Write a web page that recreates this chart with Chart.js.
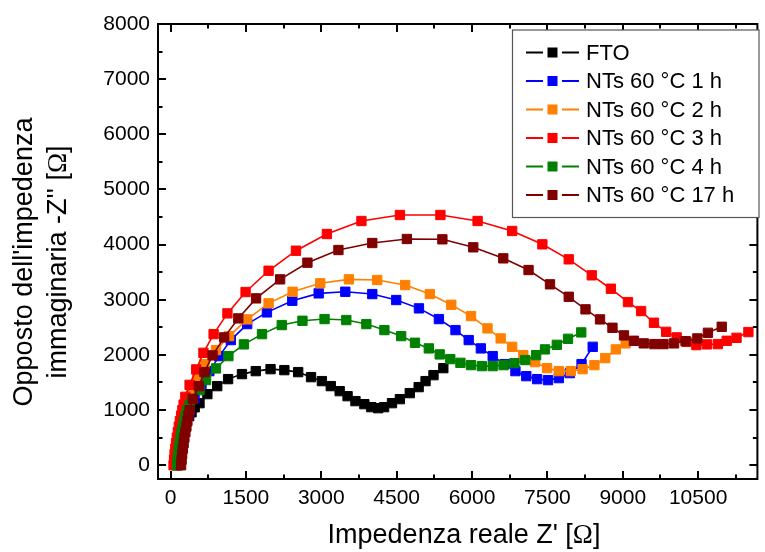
<!DOCTYPE html>
<html>
<head>
<meta charset="utf-8">
<script src="https://cdn.jsdelivr.net/npm/chart.js@4"></script>
<style>
  html, body { margin: 0; padding: 0; background: #fff; }
  #wrap { width: 765px; height: 552px; }
</style>
</head>
<body>
<div id="wrap"><canvas id="nyquist" width="765" height="552"></canvas></div>
<script>
// Nyquist data: Z' (real) and -Z'' (imaginary), ohm
const ftoRe = [150,160,175,190,210,230,255,285,320,370,418,480,576,733,929,1145,1421,1696,1990,2265,2540,2796,3012,3189,3366,3523,3680,3857,3995,4132,4250,4407,4564,4761,4938,5075,5233,5429];
const ftoIm = [0,100,200,300,400,500,600,700,800,890,960,1050,1125,1289,1434,1561,1652,1706,1742,1724,1688,1597,1525,1434,1343,1252,1162,1107,1053,1034,1053,1125,1198,1307,1416,1525,1633,1760];

const nt1Re = [120,130,145,160,180,200,225,255,290,335,379,477,615,772,969,1199,1525,1918,2423,2948,3478,4015,4492,4944,5341,5671,5934,6176,6412,6648,6864,7080,7296,7513,7729,7945,8180,8402];
const nt1Im = [0,100,200,300,400,500,600,700,800,900,962,1216,1470,1706,1978,2269,2559,2771,2982,3116,3145,3103,2995,2844,2650,2450,2269,2118,1978,1833,1706,1615,1561,1543,1579,1670,1833,2147];

const nt2Re = [110,120,130,145,160,180,200,225,250,280,315,360,413,530,674,904,1165,1525,1951,2429,2979,3549,4113,4669,5160,5587,5980,6308,6570,6799,7021,7257,7493,7729,7965,8201,8436,8652,8862,9058];
const nt2Im = [0,100,200,300,400,500,600,700,800,900,1000,1150,1300,1573,1833,2087,2341,2644,2935,3145,3298,3370,3358,3267,3103,2909,2704,2481,2299,2147,1996,1869,1760,1706,1706,1742,1815,1942,2100,2209];

const nt3Re = [60,70,80,95,110,125,145,165,185,210,235,260,295,379,511,654,857,1132,1493,1951,2496,3111,3799,4565,5371,6111,6799,7400,7925,8383,8764,9104,9365,9621,9864,10073,10269,10466,10676,10892,11069,11265,11501];
const nt3Im = [0,100,200,300,400,500,600,700,800,900,1000,1100,1240,1457,1737,2038,2377,2753,3140,3526,3889,4192,4428,4537,4537,4428,4247,4005,3733,3443,3200,2958,2795,2583,2419,2318,2238,2178,2191,2196,2256,2310,2414];

const nt4Re = [130,140,150,165,180,200,220,245,270,300,330,380,440,576,707,904,1151,1460,1820,2213,2625,3065,3498,3897,4256,4590,4865,5140,5357,5567,5769,5980,6196,6412,6628,6844,7060,7276,7452,7688,7911,8174];
const nt4Im = [0,100,200,300,400,500,600,700,800,900,1000,1100,1200,1361,1543,1755,1978,2191,2377,2541,2619,2650,2632,2559,2450,2341,2220,2118,2009,1924,1857,1815,1797,1797,1815,1851,1906,1996,2100,2183,2292,2408];

const nt17Re = [210,220,230,245,260,275,295,315,335,355,379,444,562,674,837,1067,1348,1702,2181,2724,3341,4015,4703,5410,6025,6622,7125,7552,7925,8259,8548,8795,9025,9222,9418,9629,9811,10022,10250,10485,10695,10970];
const nt17Im = [0,100,200,300,400,500,600,700,800,900,998,1203,1434,1688,1991,2318,2662,3025,3370,3672,3902,4029,4102,4096,3951,3751,3539,3280,3054,2826,2644,2492,2354,2256,2209,2196,2196,2209,2250,2299,2401,2510];

const seriesLabels = ['FTO', 'NTs 60 °C 1 h', 'NTs 60 °C 2 h', 'NTs 60 °C 3 h', 'NTs 60 °C 4 h', 'NTs 60 °C 17 h'];
const seriesColors = ['#000000', '#0000ff', '#ff8000', '#ff0000', '#008000', '#800000'];

const xTicks = [0, 1500, 3000, 4500, 6000, 7500, 9000, 10500];
const yTicks = [0, 1000, 2000, 3000, 4000, 5000, 6000, 7000, 8000];

const xTitle = [["Impedenza reale Z' [", 'sans'], ['Ω', 'serif'], [']', 'sans']];
const yTitle1 = [["Opposto dell'impedenza", 'sans']];
const yTitle2 = [["immaginaria -Z'' [", 'sans'], ['Ω', 'serif'], [']', 'sans']];

const FONT = "'Liberation Sans', Arial, sans-serif";
const SERIF = "'Liberation Serif', 'Times New Roman', serif";

function pairs(re, im) {
  return re.map((v, i) => ({x: v, y: im[i]}));
}

const allSeries = [
  pairs(ftoRe, ftoIm),
  pairs(nt1Re, nt1Im),
  pairs(nt2Re, nt2Im),
  pairs(nt3Re, nt3Im),
  pairs(nt4Re, nt4Im),
  pairs(nt17Re, nt17Im)
];

const datasets = allSeries.map((pts, i) => ({
  label: seriesLabels[i],
  data: pts,
  showLine: true,
  borderColor: seriesColors[i],
  backgroundColor: seriesColors[i],
  borderWidth: 1.6,
  pointStyle: 'rect',
  pointRadius: 6.6,
  pointBorderWidth: 1,
  pointBorderColor: seriesColors[i],
  pointBackgroundColor: seriesColors[i],
  order: allSeries.length - i   // later series drawn on top
}));

// text made of sans / serif pieces, centred on (cx, cy)
function mixedText(ctx, parts, cx, cy, size) {
  const fontOf = (k) => size + 'px ' + (k === 'serif' ? SERIF : FONT);
  let total = 0;
  parts.forEach(p => { ctx.font = fontOf(p[1]); total += ctx.measureText(p[0]).width; });
  let x = cx - total / 2;
  ctx.textAlign = 'left';
  ctx.textBaseline = 'middle';
  parts.forEach(p => {
    ctx.font = fontOf(p[1]);
    ctx.fillText(p[0], x, cy);
    x += ctx.measureText(p[0]).width;
  });
}

// frame with inward ticks on all four sides, axis titles, boxed legend
const framePlugin = {
  id: 'frame',
  afterDraw(chart) {
    const ctx = chart.ctx;
    const a = chart.chartArea;
    const xs = chart.scales.x, ys = chart.scales.y;
    ctx.save();
    ctx.strokeStyle = '#000';
    ctx.lineWidth = 2;
    ctx.strokeRect(a.left, a.top, a.right - a.left, a.bottom - a.top);

    ctx.beginPath();
    for (let v = 0; v <= xs.max; v += 750) {
      const px = Math.round(xs.getPixelForValue(v));
      const len = (v % 1500 === 0) ? 8 : 4.5;
      ctx.moveTo(px, a.bottom); ctx.lineTo(px, a.bottom - len);
      ctx.moveTo(px, a.top); ctx.lineTo(px, a.top + len);
    }
    for (let v = 0; v <= ys.max; v += 500) {
      const py = Math.round(ys.getPixelForValue(v));
      const len = (v % 1000 === 0) ? 8 : 4.5;
      ctx.moveTo(a.left, py); ctx.lineTo(a.left + len, py);
      ctx.moveTo(a.right, py); ctx.lineTo(a.right - len, py);
    }
    ctx.stroke();

    // axis titles
    ctx.fillStyle = '#000';
    mixedText(ctx, xTitle, 464, 536, 27);
    ctx.save();
    ctx.translate(0, 262);
    ctx.rotate(-Math.PI / 2);
    mixedText(ctx, yTitle1, 0, 25, 27);
    mixedText(ctx, yTitle2, 0, 59, 27);
    ctx.restore();

    // legend
    const lx = 512.5, ly = 30, lw = 246.5, lh = 187.5;
    ctx.fillStyle = '#fff';
    ctx.fillRect(lx, ly, lw, lh);
    ctx.strokeStyle = '#555';
    ctx.lineWidth = 1.2;
    ctx.strokeRect(lx, ly, lw, lh);
    ctx.font = '22px ' + FONT;
    ctx.textBaseline = 'middle';
    ctx.textAlign = 'left';
    chart.data.datasets.forEach((ds, i) => {
      const cy = 52.5 + i * 28.5;
      ctx.strokeStyle = ds.borderColor;
      ctx.lineWidth = 2;
      ctx.beginPath();
      ctx.moveTo(526, cy); ctx.lineTo(543, cy);
      ctx.moveTo(562, cy); ctx.lineTo(579, cy);
      ctx.stroke();
      ctx.fillStyle = ds.borderColor;
      ctx.fillRect(547.5, cy - 5, 10, 10);
      ctx.fillStyle = '#000';
      ctx.fillText(ds.label, 586, cy + 1);
    });
    ctx.restore();
  }
};

const config = {
  type: 'scatter',
  data: { datasets: datasets },
  options: {
    responsive: false,
    animation: false,
    devicePixelRatio: 1,
    events: [],
    layout: { padding: { top: 24, right: 1, left: 0, bottom: 0 } },
    plugins: {
      legend: { display: false },
      tooltip: { enabled: false }
    },
    scales: {
      x: {
        type: 'linear',
        min: -250,
        max: 11680,
        grid: { display: false, drawTicks: false },
        border: { display: false },
        afterBuildTicks: (s) => { s.ticks = xTicks.map(v => ({value: v})); },
        afterFit: (s) => { s.height = 73; },
        ticks: {
          color: '#000',
          padding: 7,
          maxRotation: 0,
          callback: (v) => String(v),
          font: { family: FONT, size: 21 }
        }
      },
      y: {
        type: 'linear',
        min: -250,
        max: 8000,
        grid: { display: false, drawTicks: false },
        border: { display: false },
        afterBuildTicks: (s) => { s.ticks = yTicks.map(v => ({value: v})); },
        afterFit: (s) => { s.width = 158; },
        ticks: {
          color: '#000',
          padding: 8,
          callback: (v) => String(v),
          font: { family: FONT, size: 21 }
        }
      }
    }
  },
  plugins: [framePlugin]
};

new Chart(document.getElementById('nyquist'), config);
</script>
</body>
</html>
